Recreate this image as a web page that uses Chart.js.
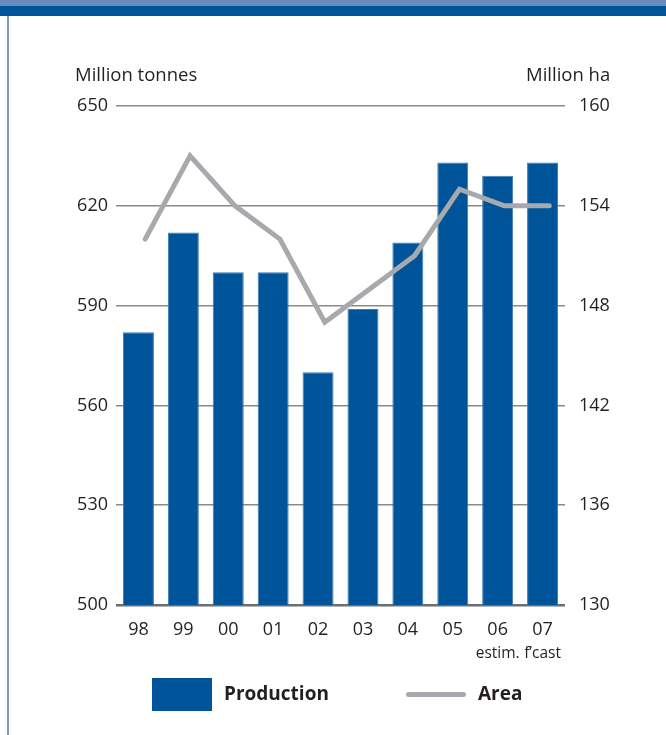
<!DOCTYPE html>
<html>
<head>
<meta charset="utf-8">
<script src="https://cdn.jsdelivr.net/npm/chart.js@4/dist/chart.umd.min.js"></script>
<style>
  body { margin: 0; background: #fff; font-family: "Open Sans", sans-serif; color: #231f20; }
  #wrap { position: relative; width: 666px; height: 735px; overflow: hidden; }
  #band1 { position: absolute; left: 0; top: 0; width: 666px; height: 6px; background: #6a8bbd; }
  #band2 { position: absolute; left: 0; top: 6px; width: 666px; height: 10px; background: #00559a; }
  #rule { position: absolute; left: 7px; top: 16px; width: 2px; height: 719px; background: #7b9bb7; }
  canvas { position: absolute; left: 0; top: 0; }
  .title { position: absolute; top: 61px; font-size: 18.5px; }
  .leg { position: absolute; font-weight: bold; font-size: 19px; top: 680px; }
</style>
</head>
<body>
<div id="wrap">
  <div id="band1"></div>
  <div id="band2"></div>
  <div id="rule"></div>
  <canvas id="chart1" width="666" height="735"></canvas>
  <div class="title" style="left:75px">Million tonnes</div>
  <div class="title" style="left:526px">Million ha</div>
  <div style="position:absolute;left:152px;top:678px;width:60px;height:33px;background:#00559a"></div>
  <div class="leg" style="left:224px" id="leg1"></div>
  <div style="position:absolute;left:406px;top:692px;width:60px;height:5px;border-radius:3px;background:#a7a9ac"></div>
  <div class="leg" style="left:478px" id="leg2"></div>
</div>
<script>
// values
const years = ['98', '99', '00', '01', '02', '03', '04', '05', '06', '07'];
const notes = ['', '', '', '', '', '', '', '', 'estim.', 'f\u2019cast'];
const production = [582, 612, 600, 600, 570, 589, 609, 633, 629, 633];
const area = [152, 157, 154, 152, 147, 149, 151, 155, 154, 154];
const leftTicks = [500, 530, 560, 590, 620, 650];
const rightTicks = [130, 136, 142, 148, 154, 160];

document.getElementById('leg1').textContent = 'Production';
document.getElementById('leg2').textContent = 'Area';

// the line sits a little right of the bar centres in the original
const shift = 0.15;
const txt = '#231f20';
const tickFont = { family: 'Open Sans', size: 18 };

const ctx = document.getElementById('chart1').getContext('2d');
new Chart(ctx, {
  type: 'bar',
  data: {
    labels: years,
    datasets: [
      {
        type: 'line',
        label: 'Area',
        data: area.map((v, i) => ({ x: i, y: v })),
        xAxisID: 'xl',
        yAxisID: 'y2',
        borderColor: '#a7a9ac',
        borderWidth: 5,
        borderCapStyle: 'round',
        borderJoinStyle: 'miter',
        pointRadius: 0,
        tension: 0,
        order: 0
      },
      {
        type: 'bar',
        label: 'Production',
        data: production,
        xAxisID: 'x',
        yAxisID: 'y',
        backgroundColor: '#00559a',
        borderColor: '#3f79b2',
        borderWidth: 1,
        borderSkipped: 'bottom',
        grouped: false,
        categoryPercentage: 1,
        barPercentage: 0.69,
        order: 1
      }
    ]
  },
  options: {
    responsive: false,
    animation: false,
    layout: { padding: { top: 106, left: 0, right: 0, bottom: 0 } },
    plugins: { legend: { display: false }, tooltip: { enabled: false } },
    scales: {
      x: {
        type: 'category',
        position: 'bottom',
        offset: true,
        grid: { display: false },
        border: { display: false },
        ticks: { color: txt, font: tickFont, padding: 6, maxRotation: 0 },
        afterFit: s => { s.height = 31; }
      },
      xs: {
        type: 'category',
        position: 'bottom',
        labels: notes,
        offset: true,
        grid: { display: false },
        border: { display: false },
        ticks: { color: txt, font: { family: 'Open Sans', size: 15.5 }, padding: 0, maxRotation: 0, autoSkip: false },
        afterFit: s => { s.height = 99; }
      },
      xl: {
        type: 'linear',
        display: false,
        offset: false,
        grid: { offset: false },
        min: -0.5 - shift,
        max: 9.5 - shift
      },
      y: {
        position: 'left',
        min: 500,
        max: 650,
        afterBuildTicks: s => { s.ticks = leftTicks.map(v => ({ value: v })); },
        grid: {
          drawTicks: false,
          color: c => c.index === 0 ? '#6d6e71' : '#8a8a8a',
          lineWidth: c => c.index === 0 ? 2.5 : 1.5
        },
        border: { display: false },
        ticks: { color: txt, font: tickFont, padding: 8 },
        afterFit: s => { s.width = 116; }
      },
      y2: {
        position: 'right',
        min: 130,
        max: 160,
        afterBuildTicks: s => { s.ticks = rightTicks.map(v => ({ value: v })); },
        grid: { display: false, drawTicks: false },
        border: { display: false },
        ticks: { color: txt, font: tickFont, padding: 14 },
        afterFit: s => { s.width = 101; }
      }
    }
  }
});
</script>
</body>
</html>
